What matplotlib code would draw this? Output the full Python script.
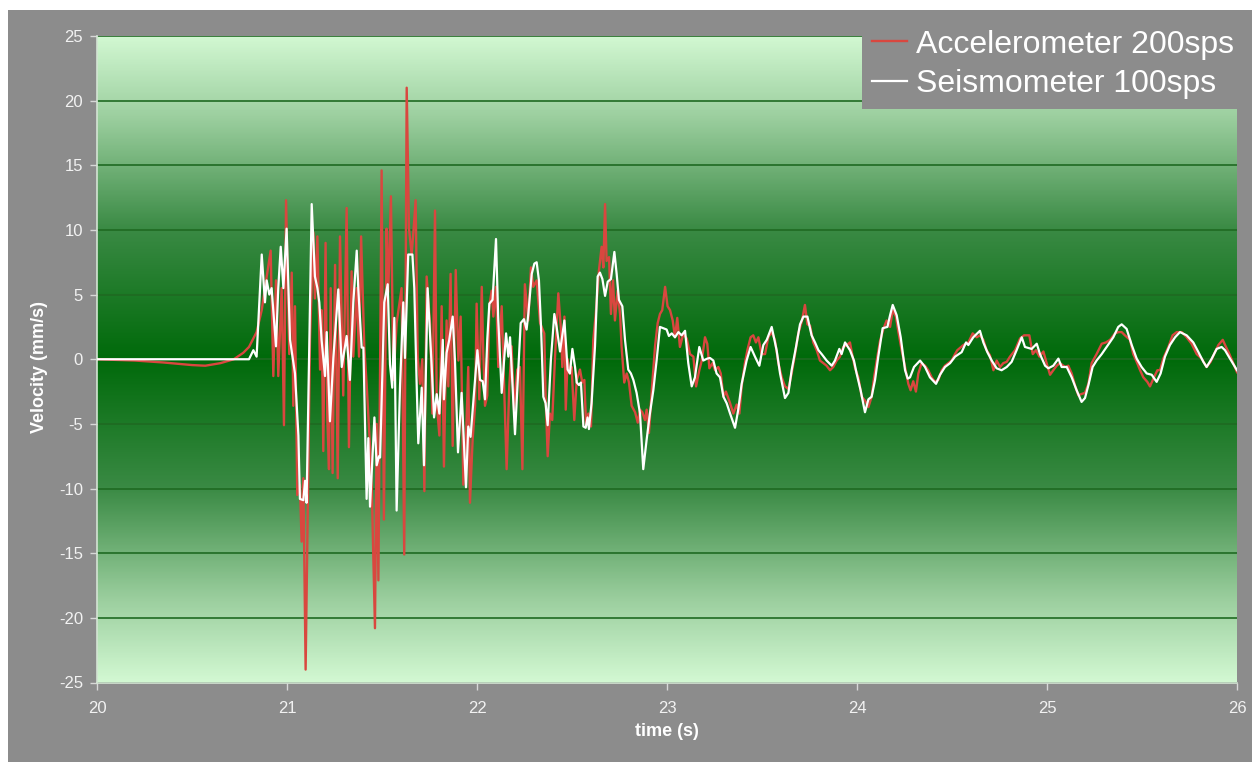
import numpy as np
import matplotlib
matplotlib.use("Agg")
import matplotlib.pyplot as plt
from matplotlib.colors import LinearSegmentedColormap
from matplotlib.patches import Rectangle
from matplotlib.lines import Line2D

plt.rcParams['font.family'] = ['Liberation Sans', 'DejaVu Sans']

# ---------------- data ----------------
acc_t = [20.0, 20.2, 20.35, 20.5, 20.57, 20.65, 20.72, 20.77, 20.8, 20.84, 20.867, 20.884,
         20.914, 20.928, 20.942, 20.954, 20.972, 20.984, 20.995, 21.012, 21.025, 21.033, 21.042,
         21.054, 21.068, 21.077, 21.086, 21.098, 21.112, 21.121, 21.139, 21.147, 21.16, 21.174,
         21.182, 21.191, 21.203, 21.212, 21.221, 21.23, 21.24, 21.253, 21.267, 21.279, 21.296,
         21.314, 21.326, 21.34, 21.349, 21.367, 21.379, 21.39, 21.407, 21.419, 21.437, 21.446,
         21.463, 21.472, 21.481, 21.498, 21.51, 21.524, 21.533, 21.547, 21.56, 21.577, 21.603,
         21.617, 21.63, 21.642, 21.656, 21.665, 21.677, 21.688, 21.7, 21.712, 21.723, 21.735,
         21.753, 21.765, 21.779, 21.788, 21.802, 21.814, 21.826, 21.84, 21.849, 21.861, 21.872,
         21.888, 21.902, 21.914, 21.928, 21.942, 21.954, 21.963, 21.977, 21.99, 21.998, 22.012,
         22.025, 22.033, 22.042, 22.054, 22.065, 22.077, 22.086, 22.1, 22.112, 22.13, 22.142,
         22.156, 22.17, 22.182, 22.195, 22.212, 22.226, 22.239, 22.252, 22.27, 22.284, 22.296,
         22.314, 22.332, 22.354, 22.361, 22.372, 22.384, 22.396, 22.41, 22.428, 22.442, 22.449,
         22.46, 22.467, 22.477, 22.489, 22.498, 22.512, 22.525, 22.542, 22.554, 22.565, 22.574,
         22.586, 22.6, 22.612, 22.625, 22.642, 22.656, 22.665, 22.674, 22.682, 22.695, 22.705,
         22.716, 22.726, 22.74, 22.753, 22.761, 22.775, 22.788, 22.8, 22.814, 22.832, 22.846,
         22.858, 22.87, 22.884, 22.893, 22.905, 22.919, 22.937, 22.951, 22.963, 22.975, 22.99,
         23.003, 23.016, 23.03, 23.042, 23.054, 23.068, 23.086, 23.104, 23.121, 23.139, 23.153,
         23.17, 23.183, 23.2, 23.212, 23.223, 23.24, 23.253, 23.27, 23.283, 23.297, 23.31,
         23.332, 23.349, 23.367, 23.381, 23.393, 23.41, 23.423, 23.44, 23.454, 23.468, 23.481,
         23.498, 23.516, 23.533, 23.551, 23.568, 23.586, 23.604, 23.621, 23.639, 23.656, 23.674,
         23.691, 23.709, 23.726, 23.739, 23.753, 23.77, 23.788, 23.805, 23.823, 23.84, 23.858,
         23.875, 23.893, 23.91, 23.928, 23.946, 23.963, 23.977, 23.99, 24.007, 24.025, 24.042,
         24.06, 24.077, 24.09, 24.104, 24.121, 24.139, 24.156, 24.174, 24.188, 24.205, 24.218,
         24.235, 24.253, 24.27, 24.282, 24.296, 24.31, 24.323, 24.34, 24.358, 24.375, 24.393,
         24.41, 24.428, 24.446, 24.463, 24.481, 24.498, 24.516, 24.528, 24.56, 24.586, 24.609,
         24.63, 24.647, 24.665, 24.682, 24.7, 24.718, 24.735, 24.753, 24.77, 24.788, 24.805,
         24.832, 24.858, 24.879, 24.907, 24.925, 24.942, 24.96, 24.981, 24.998, 25.016, 25.033,
         25.051, 25.068, 25.095, 25.112, 25.13, 25.147, 25.165, 25.179, 25.2, 25.218, 25.235,
         25.261, 25.288, 25.31, 25.332, 25.358, 25.376, 25.393, 25.41, 25.437, 25.454, 25.472,
         25.49, 25.507, 25.528, 25.542, 25.563, 25.581, 25.595, 25.612, 25.639, 25.661, 25.683,
         25.709, 25.735, 25.761, 25.788, 25.814, 25.84, 25.861, 25.884, 25.902, 25.925, 25.942,
         25.96, 25.977, 26.0]
acc_v = [0.0, -0.1, -0.25, -0.45, -0.5, -0.3, 0.0, 0.5, 0.95, 2.1, 3.8, 5.5,
         8.4, -1.3, 6.1, -1.3, 5.5, -5.1, 12.3, 0.4, 6.7, -3.6, 4.1,
         -10.5, -9.7, -14.1, -9.2, -24.0, -8.5, 1.5, 9.8, 4.7, 9.5, -0.8,
         3.8, -7.1, 9.0, -4.5, -8.5, 5.5, -8.8, 7.3, -9.2, 9.5, -2.8,
         11.7, -6.8, 6.8, 0.2, 5.5, 0.2, 9.5, 0.9, -1.9, -6.8, -9.9,
         -20.8, -5.0, -17.1, 14.6, -12.4, 10.1, 5.2, 12.6, -1.6, 2.8, 5.5,
         -15.1, 21.0, 10.1, 8.1, 9.8, 12.3, 0.1, -1.9, 0.0, -10.2, 6.4,
         2.7, -4.2, 11.5, -3.4, -5.9, 4.1, -8.3, 3.0, -2.1, 6.6, -6.7,
         6.9, -0.1, 3.3, -9.7, -6.2, -0.6, -11.1, -6.2, -3.6, 4.3, -3.1,
         5.6, 0.5, -3.6, -2.8, 4.1, 5.3, 3.3, 5.6, -0.6, 4.1, -1.6,
         -8.5, -2.1, 1.0, -3.9, -0.8, -0.6, -8.5, 5.8, 3.0, 7.1, 5.6,
         6.1, 2.8, 2.0, -2.9, -7.5, -4.2, -4.7, 0.0, 5.1, 2.25, -0.6,
         3.3, -3.9, 0.0, -1.1, -0.6, -4.7, -1.6, -0.8, -1.8, -1.6, -5.1,
         -4.2, -5.2, 1.5, 3.5, 6.9, 8.7, 7.1, 12.0, 7.6, 7.9, 3.5,
         6.1, 3.0, 5.3, 3.5, 1.0, -1.8, -1.1, -1.8, -3.6, -4.1, -4.9,
         -3.9, -4.1, -4.7, -3.9, -5.7, -2.6, 1.0, 2.8, 3.5, 3.8, 5.6,
         4.1, 3.8, 3.0, 1.7, 3.2, 0.95, 1.97, 1.6, 0.4, 0.2, -2.1,
         -0.85, -0.1, 1.7, 1.2, -0.7, -0.3, -0.85, -0.6, -1.1, -2.9, -2.5,
         -3.4, -4.2, -3.5, -4.2, -2.1, -0.3, 0.7, 1.7, 1.85, 1.3, 1.7,
         0.4, 0.4, 1.7, 2.1, 1.5, -0.3, -1.4, -2.1, -2.3, -1.1, 0.4,
         2.0, 2.9, 4.2, 2.7, 2.6, 1.3, 0.7, -0.1, -0.3, -0.5, -0.85,
         -0.6, -0.1, 0.2, 0.95, 1.1, 1.3, 0.2, -0.7, -1.4, -2.9, -3.2,
         -3.7, -2.9, -1.4, -0.1, 1.4, 2.35, 3.0, 2.5, 3.8, 3.3, 2.1,
         0.7, -0.6, -1.9, -2.4, -1.7, -2.5, -1.1, -0.3, -0.5, -0.85, -1.4,
         -1.75, -1.6, -0.85, -0.5, -0.3, -0.1, 0.4, 0.7, 1.1, 1.3, 2.0,
         1.7, 1.85, 1.5, 0.7, 0.3, -0.85, -0.1, -0.6, -0.3, -0.2, 0.2,
         0.7, 1.6, 1.85, 1.85, 0.4, 0.7, 0.2, 0.6, -0.3, -1.2, -0.85,
         -0.5, -0.3, -0.6, -0.5, -1.1, -2.0, -2.8, -2.7, -2.6, -1.9, -0.3,
         0.4, 1.2, 1.3, 1.5, 2.0, 2.1, 2.1, 1.85, 1.5, 0.4, -0.2,
         -0.85, -1.4, -1.75, -2.1, -1.4, -0.85, -0.85, 0.05, 0.95, 1.85, 2.1,
         2.1, 1.7, 1.2, 0.4, 0.05, -0.6, -0.2, 0.55, 1.1, 1.5, 0.95,
         0.4, -0.2, -1.0]

seis_t = [20.0, 20.3, 20.6, 20.8, 20.823, 20.84, 20.867, 20.884, 20.893, 20.907, 20.919,
          20.942, 20.954, 20.967, 20.981, 20.998, 21.016, 21.042, 21.06, 21.068, 21.086, 21.095,
          21.103, 21.13, 21.147, 21.16, 21.17, 21.182, 21.2, 21.209, 21.226, 21.244, 21.27,
          21.288, 21.314, 21.331, 21.349, 21.367, 21.375, 21.393, 21.402, 21.419, 21.428, 21.437,
          21.46, 21.472, 21.484, 21.49, 21.512, 21.53, 21.542, 21.554, 21.565, 21.577, 21.595,
          21.612, 21.621, 21.638, 21.66, 21.67, 21.682, 21.691, 21.709, 21.721, 21.74, 21.761,
          21.774, 21.788, 21.802, 21.82, 21.826, 21.84, 21.854, 21.872, 21.884, 21.9, 21.919,
          21.942, 21.954, 21.966, 21.99, 22.002, 22.016, 22.03, 22.042, 22.054, 22.065, 22.082,
          22.1, 22.112, 22.13, 22.153, 22.165, 22.174, 22.2, 22.23, 22.247, 22.261, 22.27,
          22.288, 22.302, 22.314, 22.326, 22.337, 22.349, 22.361, 22.372, 22.389, 22.407, 22.419,
          22.437, 22.46, 22.477, 22.489, 22.502, 22.516, 22.525, 22.537, 22.547, 22.56, 22.572,
          22.582, 22.589, 22.603, 22.621, 22.635, 22.647, 22.66, 22.674, 22.688, 22.705, 22.723,
          22.735, 22.747, 22.765, 22.779, 22.796, 22.81, 22.823, 22.84, 22.858, 22.875, 22.893,
          22.91, 22.928, 22.946, 22.963, 22.981, 22.998, 23.01, 23.025, 23.042, 23.06, 23.077,
          23.095, 23.112, 23.13, 23.147, 23.17, 23.191, 23.212, 23.226, 23.244, 23.261, 23.279,
          23.297, 23.314, 23.332, 23.358, 23.375, 23.393, 23.419, 23.44, 23.463, 23.486, 23.507,
          23.525, 23.551, 23.577, 23.595, 23.621, 23.639, 23.656, 23.679, 23.7, 23.718, 23.739,
          23.761, 23.779, 23.797, 23.814, 23.84, 23.867, 23.884, 23.907, 23.919, 23.937, 23.963,
          23.984, 23.998, 24.019, 24.042, 24.06, 24.077, 24.095, 24.112, 24.135, 24.16, 24.174,
          24.188, 24.209, 24.23, 24.253, 24.267, 24.279, 24.3, 24.332, 24.358, 24.384, 24.416,
          24.437, 24.463, 24.49, 24.516, 24.551, 24.574, 24.586, 24.612, 24.647, 24.665, 24.686,
          24.709, 24.735, 24.761, 24.788, 24.814, 24.84, 24.867, 24.884, 24.919, 24.946, 24.963,
          24.99, 25.007, 25.033, 25.06, 25.077, 25.104, 25.13, 25.156, 25.182, 25.2, 25.218,
          25.24, 25.261, 25.288, 25.314, 25.349, 25.375, 25.393, 25.419, 25.446, 25.472, 25.498,
          25.525, 25.551, 25.577, 25.598, 25.621, 25.647, 25.674, 25.7, 25.735, 25.77, 25.797,
          25.823, 25.84, 25.867, 25.893, 25.919, 25.937, 25.963, 26.0]
seis_v = [0.0, 0.0, 0.0, 0.0, 0.7, 0.2, 8.1, 4.4, 6.1, 5.0, 5.5,
          1.0, 5.5, 8.7, 5.5, 10.1, 1.5, -1.1, -5.9, -10.8, -10.9, -9.4,
          -11.1, 12.0, 6.4, 5.5, 4.4, 1.5, -1.3, 2.1, -4.8, 0.1, 5.4,
          -0.6, 1.8, -1.6, 4.4, 8.4, 5.5, 0.9, 0.9, -10.8, -6.1, -11.4,
          -4.5, -8.2, -7.5, -7.6, 4.4, 5.8, -0.4, -2.2, 3.2, -11.7, -2.0,
          4.4, 0.1, 8.1, 8.1, 5.5, -1.7, -6.5, -2.2, -8.2, 5.5, -0.4,
          -4.5, -2.7, -4.2, 1.5, -3.1, 0.5, 1.5, 3.3, -0.1, -7.2, -2.6,
          -9.9, -5.2, -6.0, -1.6, 0.7, -1.6, -1.7, -3.1, 1.5, 4.3, 4.6,
          9.3, 3.0, -2.6, 2.0, 0.2, 1.7, -5.8, 2.8, 3.1, 2.3, 3.5,
          6.6, 7.4, 7.5, 6.1, 2.5, -2.9, -3.4, -5.1, 0.0, 3.5, 2.5,
          0.6, 3.0, -0.8, -1.1, 0.8, -0.6, -1.8, -2.0, -1.8, -5.2, -5.3,
          -4.5, -5.4, -3.4, 1.0, 6.4, 6.7, 6.2, 4.9, 6.0, 6.2, 8.3,
          6.6, 4.6, 4.1, 1.5, -0.8, -1.1, -1.6, -2.6, -4.2, -8.5, -6.2,
          -4.2, -2.4, 0.0, 2.5, 2.4, 2.3, 1.8, 2.0, 1.7, 2.1, 1.85,
          2.2, -0.3, -2.1, -1.4, 0.95, -0.1, 0.05, 0.1, -0.1, -1.1, -1.4,
          -2.9, -3.4, -4.2, -5.3, -3.9, -1.9, -0.1, 0.95, 0.2, -0.5, 1.1,
          1.5, 2.5, 0.7, -1.1, -3.0, -2.6, -0.85, 0.95, 2.7, 3.3, 3.3,
          1.85, 1.3, 0.7, 0.4, -0.1, -0.5, -0.1, 0.8, 0.4, 1.3, 0.7,
          -0.1, -1.1, -2.4, -4.1, -3.1, -2.9, -1.6, 0.2, 2.4, 2.5, 3.4,
          4.2, 3.4, 1.7, -0.85, -1.5, -1.4, -0.6, -0.1, -0.6, -1.4, -1.9,
          -1.2, -0.6, -0.3, 0.2, 0.55, 1.3, 1.1, 1.7, 2.2, 1.3, 0.55,
          -0.1, -0.7, -0.85, -0.6, -0.2, 0.7, 1.7, 0.95, 0.8, 1.2, 0.4,
          -0.5, -0.7, -0.5, 0.05, -0.6, -0.6, -1.4, -2.4, -3.3, -3.0, -2.0,
          -0.6, -0.1, 0.4, 0.95, 1.7, 2.5, 2.7, 2.35, 1.1, 0.05, -0.6,
          -1.1, -1.2, -1.75, -1.1, 0.2, 1.1, 1.7, 2.1, 1.85, 1.3, 0.55,
          -0.2, -0.6, 0.05, 0.8, 0.95, 0.7, 0.05, -0.85]

x_ticks = [20, 21, 22, 23, 24, 25, 26]
y_ticks = [-25, -20, -15, -10, -5, 0, 5, 10, 15, 20, 25]
series_labels = ["Accelerometer 200sps", "Seismometer 100sps"]

# ---------------- figure ----------------
W, H = 1252, 762
fig = plt.figure(figsize=(W / 100, H / 100), dpi=100, facecolor='white')
GRAY = '#8c8c8c'
fig.patches.append(Rectangle((8 / W, 0), 1 - 8 / W, 1 - 10 / H, transform=fig.transFigure,
                             facecolor=GRAY, edgecolor='none', zorder=-10))

L, R, T, B = 97, 1237, 36, 682.5
ax = fig.add_axes([L / W, 1 - B / H, (R - L) / W, (B - T) / H])
ax.set_zorder(1)
ax.set_facecolor('none')

# vertical gradient background
cmap = LinearSegmentedColormap.from_list('g', [(0.0, '#d2f8d2'), (0.25, '#9ccf9f'),
                                               (0.6, '#3a8a44'), (1.0, '#006a0a')])
yy = np.linspace(25, -25, 400)
grad = 1 - np.abs(yy) / 25.0
ax.imshow(grad[:, None], aspect='auto', extent=[20, 26, -25, 25], cmap=cmap,
          vmin=0, vmax=1, zorder=0, interpolation='bilinear')

ax.set_xlim(20, 26)
ax.set_ylim(-25, 25)
ax.set_axisbelow(True)
ax.yaxis.grid(True, color='#1f6a22', linewidth=1.2)
ax.xaxis.grid(False)

ax.plot(acc_t, acc_v, color='#d9473f', linewidth=1.7, zorder=2)
ax.plot(seis_t, seis_v, color='white', linewidth=1.6, zorder=3)

for s in ['top', 'right']:
    ax.spines[s].set_visible(False)
for s in ['left', 'bottom']:
    ax.spines[s].set_color('#d4e4d4')
    ax.spines[s].set_linewidth(1.2)

ax.set_xticks(x_ticks)
ax.set_yticks(y_ticks)
ax.set_xticklabels([str(v) for v in x_ticks])
ax.set_yticklabels([str(v) for v in y_ticks])
ax.tick_params(axis='both', colors='#d8d8d8', labelcolor='#f2f2f2', labelsize=12,
               length=5, width=1.0, direction='out')
ax.tick_params(axis='x', pad=8)
ax.tick_params(axis='y', pad=5)

fig.text(40 / W, 1 - 367 / H, 'Velocity (mm/s)', rotation=90, ha='center', va='center',
         color='white', fontsize=13, fontweight='bold', zorder=2)
fig.text(667 / W, 1 - 732 / H, 'time (s)', ha='center', va='center',
         color='white', fontsize=13, fontweight='bold', zorder=2)

handles = [Line2D([], [], color='#d9473f', linewidth=1.7),
           Line2D([], [], color='white', linewidth=1.6)]
leg = fig.legend(handles, series_labels, loc='upper right',
                 bbox_to_anchor=(1244 / W, 1 - 20 / H), bbox_transform=fig.transFigure,
                 fontsize=23, frameon=True, fancybox=False, borderpad=0.3,
                 handlelength=1.1, handletextpad=0.3, labelspacing=0.3,
                 borderaxespad=0)
leg.get_frame().set_facecolor(GRAY)
leg.get_frame().set_edgecolor('none')
leg.get_frame().set_alpha(1)
leg.set_zorder(10)
for t in leg.get_texts():
    t.set_color('white')

fig.savefig('out.png', dpi=100, facecolor=fig.get_facecolor())
